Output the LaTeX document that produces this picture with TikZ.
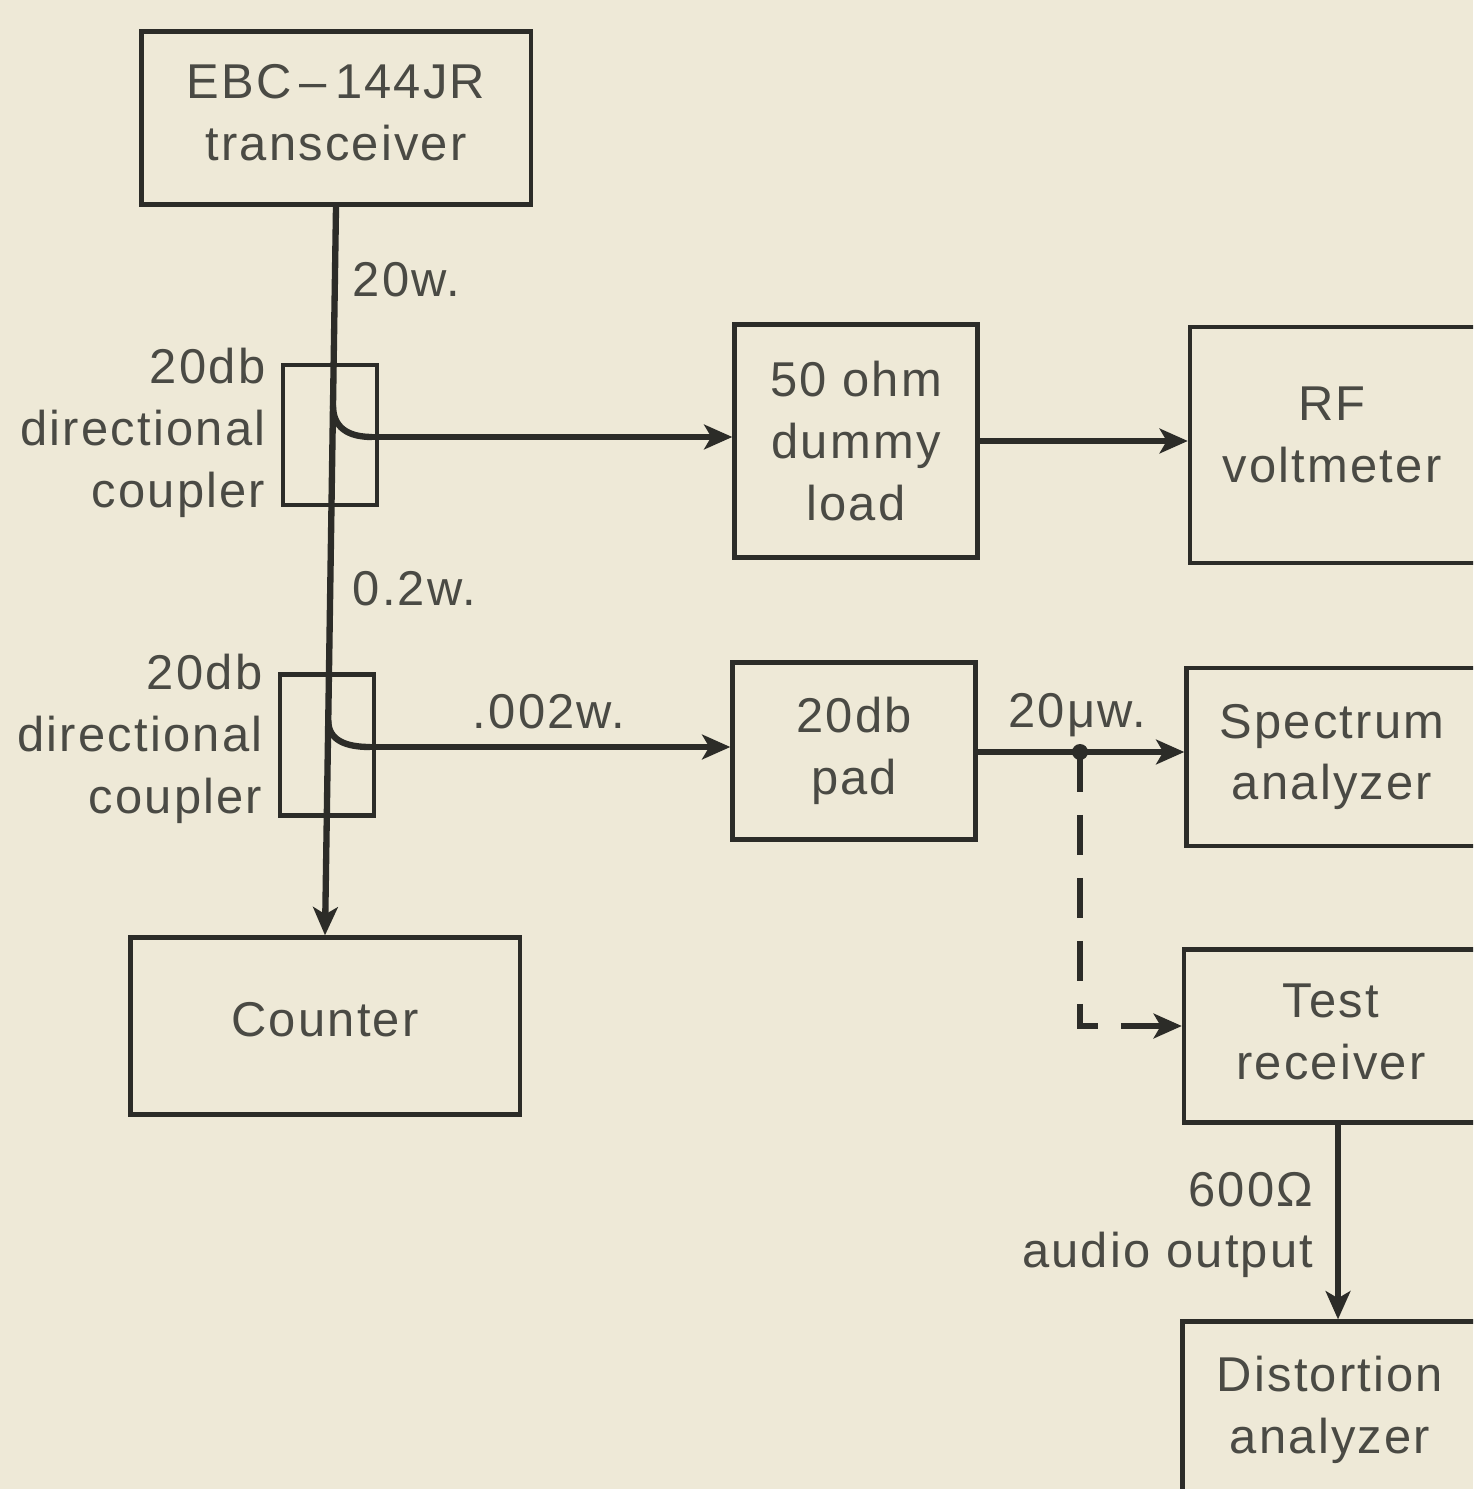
\documentclass[tikz,border=0pt]{standalone}
\usepackage{fontspec}
\setmainfont[LetterSpace=4.5]{Liberation Sans}
\usetikzlibrary{arrows.meta,calc}
\definecolor{paper}{HTML}{EEE9D7}
\definecolor{ink}{HTML}{2C2C28}
\definecolor{txt}{HTML}{4A4A44}
\tikzset{
  box/.style={draw=ink, line width=1.2pt, fill=none, inner sep=0pt, align=center,
    text=txt, font=\fontsize{13.9}{17.6}\selectfont},
  lbl/.style={inner sep=0pt, text=txt, font=\fontsize{13.9}{17.6}\selectfont},
  wire/.style={draw=ink, line width=1.8pt, line cap=butt},
  arr/.style={wire, -{Stealth[length=8pt,width=7pt,inset=2pt]}},
  dashwire/.style={draw=ink, line width=1.5pt, dash pattern=on 11.4pt off 6.5pt},
}
\begin{document}
\begin{tikzpicture}[x=0.01cm,y=-0.01cm]
\fill[paper] (0,0) rectangle (1473,1489);
\useasboundingbox (0,0) rectangle (1473,1489);
\begin{scope}
\clip (0,0) rectangle (1473,1489);
% boxes
\node[box, minimum width=3.89cm, minimum height=1.73cm] (ebc) at (336,118) {};
\node[box, draw=none] (ebct) at (336,113) {EBC\,–\,144JR\\transceiver};
\node[box, minimum width=3.89cm, minimum height=1.77cm] (cnt) at (325,1026) {};
\node[box, draw=none] (cntt) at (325,1020) {Counter};
\node[box, minimum width=0.94cm, minimum height=1.40cm] (cp1) at (330,435) {};
\node[box, minimum width=0.94cm, minimum height=1.41cm] (cp2) at (327,745) {};
\node[box, minimum width=2.43cm, minimum height=2.33cm] (dum) at (856,441) {50 ohm\\dummy\\load};
\node[box, minimum width=2.88cm, minimum height=2.36cm] (rf) at (1334,445) {};
\node[box, draw=none] (rft) at (1332,435) {RF\\voltmeter};
\node[box, minimum width=2.43cm, minimum height=1.77cm] (pad) at (854,751) {20db\\pad};
\node[box, minimum width=2.91cm, minimum height=1.78cm] (spec) at (1332,757) {Spectrum\\analyzer};
\node[box, minimum width=2.94cm, minimum height=1.73cm] (test) at (1331,1036) {};
\node[box, draw=none] (testt) at (1331,1032) {Test\\receiver};
\node[box, minimum width=2.95cm, minimum height=1.73cm] (dist) at (1330,1408) {};
\node[box, draw=none] (distt) at (1330,1410) {Distortion\\analyzer};
% main line
\draw[arr] (ebc.south) -- (cnt.north);
% coupler taps
\coordinate (t1) at ($(ebc.south)!0.2729!(cnt.north)$);
\coordinate (t2) at ($(ebc.south)!0.7050!(cnt.north)$);
\coordinate (h1) at (372,437);
\coordinate (h2) at (370,747);
\draw[wire] (t1) .. controls ($(t1)+(0,22)$) and ($(h1)+(-24,0)$) .. (h1);
\draw[arr] (h1) -- (h1 -| dum.west);
\draw[wire] (t2) .. controls ($(t2)+(0,20)$) and ($(h2)+(-24,0)$) .. (h2);
\draw[arr] (h2) -- (h2 -| pad.west);
% right side
\draw[arr] (dum.east) -- (dum.east -| rf.west);
\coordinate (pe) at ($(pad.east)+(0,1)$);
\draw[arr] (pe) -- (pe -| spec.west);
\coordinate (j) at (1080,752);
\coordinate (c) at (1080,1026);
\draw[dashwire] (j) -- (c) -- (c -| test.west);
\draw[draw=ink, line width=1.8pt, -{Stealth[length=8pt,width=7pt,inset=2pt]}] ($(c -| test.west)+(-30,0)$) -- (c -| test.west);
\fill[ink] (j) circle (8);
\coordinate (ts) at (1338,1123);
\draw[arr] (ts) -- (ts |- dist.north);
\end{scope}
% labels
\node[lbl, anchor=west] (l20w) at (352,280) {20w.};
\node[lbl, anchor=west] (l02w) at (352,589) {0.2w.};
\node[lbl, anchor=base] (l002) at (549,728) {.002w.};
\node[lbl, anchor=base] (l20u) at (1077,727) {20μw.};
\node[lbl, anchor=east, align=right] (lc1) at (266,433) {20db\\directional\\coupler};
\node[lbl, anchor=east, align=right] (lc2) at (263,739) {20db\\directional\\coupler};
\node[lbl, anchor=east, align=right] (l600) at (1314,1225) {600Ω\\audio output};
\end{tikzpicture}
\end{document}
